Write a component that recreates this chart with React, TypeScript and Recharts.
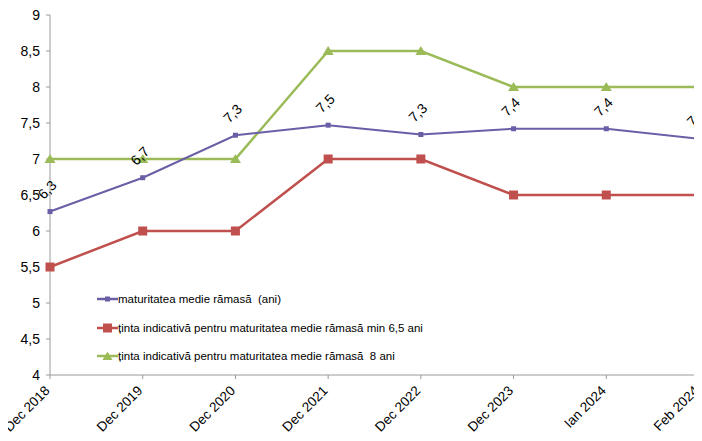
import React from 'react';
import { LineChart, Line, XAxis, YAxis, LabelList } from 'recharts';

const categories = ['Dec 2018', 'Dec 2019', 'Dec 2020', 'Dec 2021', 'Dec 2022', 'Dec 2023', 'Ian 2024', 'Feb 2024'];
const maturitate = [6.27, 6.74, 7.33, 7.47, 7.34, 7.42, 7.42, 7.28];
const tintaMin = [5.5, 6, 6, 7, 7, 6.5, 6.5, 6.5];
const tinta8 = [7, 7, 7, 8.5, 8.5, 8, 8, 8];
const yTicks = [4, 4.5, 5, 5.5, 6, 6.5, 7, 7.5, 8, 8.5, 9];

const names = {
  mat: 'maturitatea medie rămasă  (ani)',
  min: 'ținta indicativă pentru maturitatea medie rămasă min 6,5 ani',
  opt: 'ținta indicativă pentru maturitatea medie rămasă  8 ani',
};

const PURPLE = '#6a5fa6';
const RED = '#c0504d';
const GREEN = '#9bbb59';
const FONT = '"Liberation Sans", Arial, sans-serif';

const data = categories.map((c, i) => ({
  cat: c,
  mat: maturitate[i],
  min: tintaMin[i],
  opt: tinta8[i],
}));

const fmt = (v: number) => String(v).replace('.', ',');

const RotatedLabel = (props: any) => {
  const { x, y, value } = props;
  const cx = x - 2;
  const cy = y - 21;
  return (
    <text
      x={cx}
      y={cy}
      transform={`rotate(-45 ${cx} ${cy})`}
      textAnchor="middle"
      dominantBaseline="middle"
      fontSize={14}
      fontFamily={FONT}
      fill="#000"
    >
      {(Math.round(value * 10) / 10).toFixed(1).replace('.', ',')}
    </text>
  );
};

const XTick = (props: any) => {
  const { x, y, payload } = props;
  const ex = x - 2;
  const ey = y + 8;
  return (
    <text
      x={ex}
      y={ey}
      transform={`rotate(-45 ${ex} ${ey})`}
      textAnchor="end"
      dominantBaseline="middle"
      fontSize={13.5}
      fontFamily={FONT}
      fill="#000"
    >
      {payload.value}
    </text>
  );
};

const Square = ({ cx, cy, size, color }: any) =>
  cx == null ? null : <rect x={cx - size / 2} y={cy - size / 2} width={size} height={size} fill={color} />;

const Triangle = ({ cx, cy, color }: any) =>
  cx == null ? null : <polygon points={`${cx},${cy - 5} ${cx + 5.5},${cy + 4} ${cx - 5.5},${cy + 4}`} fill={color} />;

const legendItems = [
  { key: 'mat', color: PURPLE, marker: 'small' },
  { key: 'min', color: RED, marker: 'big' },
  { key: 'opt', color: GREEN, marker: 'tri' },
];

export default function App() {
  return (
    <div style={{ position: 'relative', margin: -8, width: 702, height: 441, background: '#fff', fontFamily: FONT }}>
      <LineChart width={702} height={441} data={data} margin={{ top: 15, right: 3, bottom: 0, left: 0 }}>
        <XAxis
          dataKey="cat"
          scale="point"
          interval={0}
          height={66}
          tickSize={4}
          tick={<XTick />}
          axisLine={{ stroke: '#9a9a9a' }}
          tickLine={{ stroke: '#9a9a9a' }}
        />
        <YAxis
          domain={[4, 9]}
          ticks={yTicks}
          width={50}
          tickSize={4}
          tickMargin={6}
          tickFormatter={fmt}
          tick={{ fill: '#000', fontSize: 14, fontFamily: FONT }}
          axisLine={{ stroke: '#9a9a9a' }}
          tickLine={{ stroke: '#9a9a9a' }}
          interval={0}
        />
        <Line
          dataKey="opt"
          stroke={GREEN}
          strokeWidth={2.5}
          isAnimationActive={false}
          dot={(p: any) => <Triangle key={`t${p.index}`} cx={p.cx} cy={p.cy} color={GREEN} />}
          activeDot={false}
        />
        <Line
          dataKey="min"
          stroke={RED}
          strokeWidth={2.5}
          isAnimationActive={false}
          dot={(p: any) => <Square key={`r${p.index}`} cx={p.cx} cy={p.cy} size={9} color={RED} />}
          activeDot={false}
        />
        <Line
          dataKey="mat"
          stroke={PURPLE}
          strokeWidth={2}
          isAnimationActive={false}
          dot={(p: any) => <Square key={`p${p.index}`} cx={p.cx} cy={p.cy} size={5} color={PURPLE} />}
          activeDot={false}
        >
          <LabelList dataKey="mat" content={<RotatedLabel />} />
        </Line>
      </LineChart>
      <div style={{ position: 'absolute', left: 97, top: 285, fontSize: 11.5, color: '#000' }}>
        {legendItems.map((it) => (
          <div key={it.key} style={{ display: 'flex', alignItems: 'center', height: 28.5 }}>
            <svg width={21} height={12}>
              <line x1={0} y1={6} x2={21} y2={6} stroke={it.color} strokeWidth={2.5} />
              {it.marker === 'small' && <rect x={8} y={3.5} width={5} height={5} fill={it.color} />}
              {it.marker === 'big' && <rect x={6} y={1.5} width={9} height={9} fill={it.color} />}
              {it.marker === 'tri' && <polygon points="10.5,1.5 15.5,10 5.5,10" fill={it.color} />}
            </svg>
            <span style={{ whiteSpace: 'pre' }}>{names[it.key as keyof typeof names]}</span>
          </div>
        ))}
      </div>
    </div>
  );
}
